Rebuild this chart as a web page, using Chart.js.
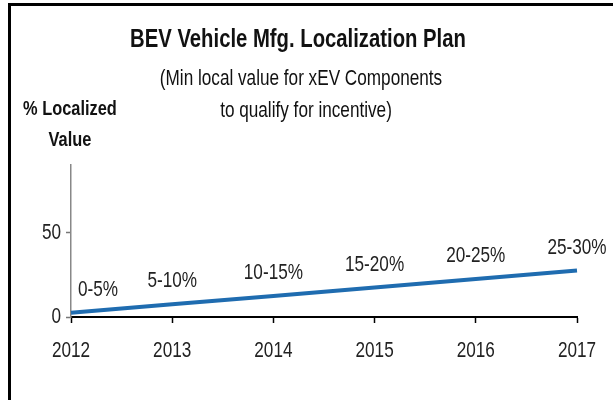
<!DOCTYPE html>
<html>
<head>
<meta charset="utf-8">
<script src="https://cdn.jsdelivr.net/npm/chart.js@4"></script>
<style>
  html, body { margin: 0; padding: 0; background: #fff; }
  #wrap { position: relative; width: 613px; height: 400px; }
  #frame {
    position: absolute; left: 8px; top: 3px; right: 0; bottom: 0;
    border-left: 3px solid #000; border-top: 3px solid #000;
    pointer-events: none;
  }
</style>
</head>
<body>
<div id="wrap">
  <canvas id="chart" width="613" height="400"></canvas>
  <div id="frame"></div>
</div>
<script>
const years = ['2012', '2013', '2014', '2015', '2016', '2017'];
const localizedValue = [2.5, 7.5, 12.5, 17.5, 22.5, 27.5];
const rangeLabels = ['0-5%', '5-10%', '10-15%', '15-20%', '20-25%', '25-30%'];
const yTicks = [0, 50];
const yMax = 90;

const titleText = 'BEV Vehicle Mfg. Localization Plan';
const subtitleLines = ['(Min local value for xEV Components', 'to qualify for incentive)'];
const yTitleLines = ['% Localized', 'Value'];

// no narrow face installed, so text is squeezed horizontally by hand
const FONT = "'Liberation Sans', Arial, sans-serif";
const SQUEEZE = 0.78;

function narrowText(ctx, text, x, y, font, align, baseline) {
  ctx.save();
  ctx.font = font;
  ctx.textAlign = align || 'center';
  ctx.textBaseline = baseline || 'alphabetic';
  ctx.translate(x, y);
  ctx.scale(SQUEEZE, 1);
  ctx.fillText(text, 0, 0);
  ctx.restore();
}

// titles and the horizontal y axis caption
const headerText = {
  id: 'headerText',
  afterDraw(chart) {
    const ctx = chart.ctx;
    ctx.save();
    ctx.fillStyle = '#111';
    narrowText(ctx, titleText, 298, 47, 'bold 26px ' + FONT);
    narrowText(ctx, subtitleLines[0], 301, 85, '22px ' + FONT);
    narrowText(ctx, subtitleLines[1], 306, 117, '22px ' + FONT);
    narrowText(ctx, yTitleLines[0], 70, 115, 'bold 21px ' + FONT);
    narrowText(ctx, yTitleLines[1], 70, 146, 'bold 21px ' + FONT);
    ctx.restore();
  },
};

// tick labels, placed with the chart's own scales
const tickText = {
  id: 'tickText',
  afterDraw(chart) {
    const ctx = chart.ctx;
    const xs = chart.scales.x;
    const ys = chart.scales.y;
    ctx.save();
    ctx.fillStyle = '#222';
    xs.ticks.forEach((t, i) => {
      narrowText(ctx, xs.getLabelForValue(t.value), xs.getPixelForTick(i), xs.bottom - xs.height + 34,
        '22px ' + FONT, 'center', 'middle');
    });
    ys.ticks.forEach((t) => {
      narrowText(ctx, String(t.value), ys.right - 10, ys.getPixelForValue(t.value),
        '22px ' + FONT, 'right', 'middle');
    });
    ctx.restore();
  },
};

// range labels above each point
const rangeText = {
  id: 'rangeText',
  afterDatasetsDraw(chart) {
    const ctx = chart.ctx;
    const pts = chart.getDatasetMeta(0).data;
    ctx.save();
    ctx.fillStyle = '#222';
    pts.forEach((p, i) => {
      const dx = i === 0 ? 27 : 0; // first label sits right of the axis
      narrowText(ctx, rangeLabels[i], p.x + dx, p.y - 23, '22px ' + FONT, 'center', 'middle');
    });
    ctx.restore();
  },
};

const ctx = document.getElementById('chart').getContext('2d');

new Chart(ctx, {
  type: 'line',
  data: {
    labels: years,
    datasets: [
      {
        data: localizedValue,
        borderColor: '#1f6cb0',
        borderWidth: 4,
        pointRadius: 0,
        tension: 0,
        fill: false,
      },
    ],
  },
  options: {
    responsive: false,
    animation: false,
    layout: {
      padding: { top: 165, right: 36, left: 0, bottom: 0 },
    },
    plugins: {
      legend: { display: false },
      tooltip: { enabled: false },
      title: { display: false },
    },
    scales: {
      x: {
        offset: false,
        grid: {
          drawOnChartArea: false,
          drawTicks: true,
          tickLength: 6,
          tickColor: '#000',
          tickWidth: 1.5,
        },
        border: { color: '#000', width: 2 },
        ticks: {
          color: 'rgba(0,0,0,0)',
          maxRotation: 0,
          autoSkip: false,
          font: { family: FONT, size: 22 },
        },
        afterFit: (scale) => {
          scale.height = 83;
        },
      },
      y: {
        min: 0,
        max: yMax,
        afterBuildTicks: (scale) => {
          scale.ticks = yTicks.map((v) => ({ value: v }));
        },
        grid: {
          drawOnChartArea: false,
          drawTicks: true,
          tickLength: 5,
          tickColor: '#777',
          tickWidth: 1.5,
        },
        border: { color: '#888', width: 1.5 },
        ticks: {
          color: 'rgba(0,0,0,0)',
          font: { family: FONT, size: 22 },
        },
        afterFit: (scale) => {
          scale.width = 71;
        },
      },
    },
  },
  plugins: [headerText, tickText, rangeText],
});
</script>
</body>
</html>
